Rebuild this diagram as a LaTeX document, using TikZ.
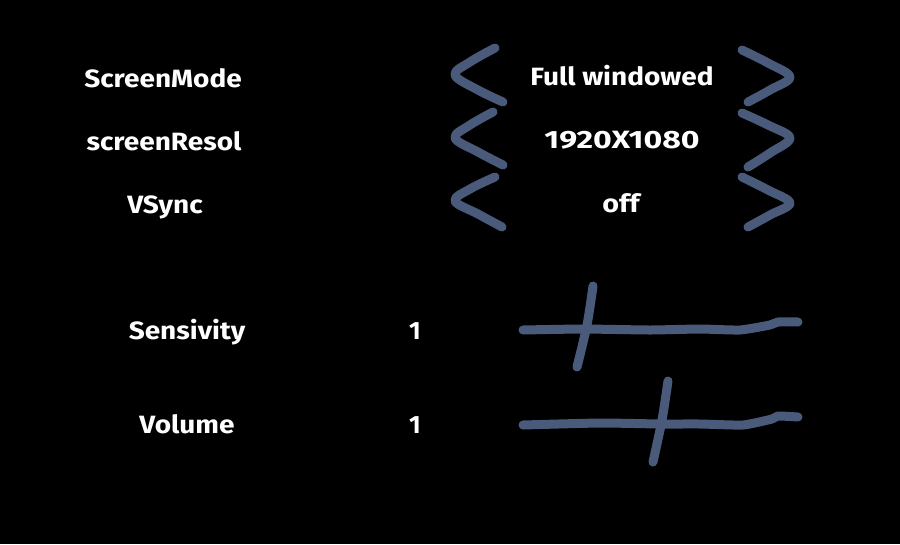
\documentclass[tikz,border=0pt]{standalone}
\usepackage{fontspec}
\setmainfont{Fira Sans}
\definecolor{stroke}{RGB}{74,90,122}
\begin{document}
\begin{tikzpicture}[x=1pt,y=-1pt,
  lbl/.style={text=white,font=\fontsize{25}{28}\selectfont\bfseries,anchor=base,inner sep=0pt},
  pen/.style={draw=stroke,line width=9pt,line cap=round,line join=round}]
\fill[black] (0,0) rectangle (900,544);
\useasboundingbox (0,0) rectangle (900,544);
% labels
\node[lbl] (screenmode) at (163,87) {\scalebox{1.12}[1]{ScreenMode}};
\node[lbl] (screenresol) at (164,150) {\scalebox{1.12}[1]{screenResol}};
\node[lbl] (vsync) at (165,213) {\scalebox{1.12}[1]{VSync}};
\node[lbl] (sens) at (187,339) {\scalebox{1.12}[1]{Sensivity}};
\node[lbl] (volume) at (187,433) {\scalebox{1.12}[1]{Volume}};
\node[lbl] (sensval) at (415,339) {1};
\node[lbl] (volval) at (415,433) {1};
\node[lbl] (modeval) at (622,85) {\scalebox{1.12}[1]{Full windowed}};
\node[lbl] (resval) at (622,148) {\scalebox{1.28}[1]{1920X1080}};
\node[lbl] (vsyncval) at (621,212) {\scalebox{1.15}[1]{off}};
% left chevrons
\draw[pen] plot[smooth,tension=0.6] coordinates {(495,48) (470,62) (455,75) (478,90) (503,102)};
\draw[pen] plot[smooth,tension=0.6] coordinates {(493,112) (470,125) (455,138) (478,152) (503,165)};
\draw[pen] plot[smooth,tension=0.6] coordinates {(495,177) (470,189) (455,201) (478,214) (502,227)};
% right chevrons
\draw[pen] plot[smooth,tension=0.6] coordinates {(742,50) (768,63) (790,77) (770,90) (748,102)};
\draw[pen] plot[smooth,tension=0.6] coordinates {(742,113) (768,125) (790,138) (770,153) (748,167)};
\draw[pen] plot[smooth,tension=0.6] coordinates {(742,177) (768,190) (790,203) (770,215) (748,227)};
% sliders
\draw[pen] plot[smooth,tension=0.3] coordinates {(523,330) (583,329) (650,330) (700,329) (740,330) (770,325) (778,322) (798,322)};
\draw[pen] plot[smooth,tension=0.5] coordinates {(593,286) (587,325) (577,367)};
\draw[pen] plot[smooth,tension=0.3] coordinates {(523,425) (600,423) (660,424) (700,424) (743,425) (772,419) (778,416) (798,417)};
\draw[pen] plot[smooth,tension=0.5] coordinates {(668,381) (662,420) (653,462)};
\end{tikzpicture}
\end{document}
